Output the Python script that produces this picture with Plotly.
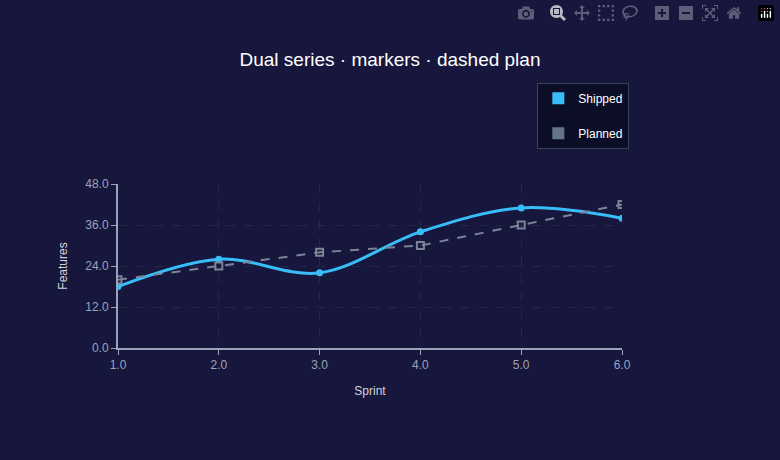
import plotly.graph_objects as go

sprints = [1, 2, 3, 4, 5, 6]
shipped = [18, 26, 22, 34, 41, 38]
planned = [20, 24, 28, 30, 36, 42]
y_ticks = [0, 12, 24, 36, 48]

fig = go.Figure()
fig.add_trace(go.Scatter(
    x=sprints, y=shipped, mode="lines+markers", name="Shipped", showlegend=False,
    line=dict(color="#38bdf8", width=3, shape="spline", smoothing=1.0),
    marker=dict(size=7, color="#38bdf8"),
))
fig.add_trace(go.Scatter(
    x=sprints, y=planned, mode="lines+markers", name="Planned", showlegend=False,
    line=dict(color="#7b8496", width=2, dash="dash"),
    marker=dict(size=7, symbol="square-open", color="#7b8496", line=dict(width=2)),
))
# legend swatches
for name, color in [("Shipped", "#38bdf8"), ("Planned", "#64748b")]:
    fig.add_trace(go.Scatter(
        x=[None], y=[None], mode="markers", name=name, legendgroup=name,
        marker=dict(symbol="square", size=14, color=color),
    ))

axis_common = dict(
    showgrid=True, gridcolor="rgba(120,130,160,0.15)", griddash="dash",
    showline=True, linecolor="#9aa3b8", linewidth=2, ticks="outside",
    tickcolor="#9aa3b8", ticklen=5, zeroline=False,
    tickfont=dict(color="#9aa3b8", size=12),
)
fig.update_layout(
    width=780, height=460,
    paper_bgcolor="#17173d", plot_bgcolor="rgba(0,0,0,0)",
    font=dict(family="Liberation Sans, Arial", color="#e5e7eb"),
    title=dict(text="Dual series · markers · dashed plan", x=0.5, y=0.885,
               xanchor="center", font=dict(size=19, color="#ffffff")),
    margin=dict(l=118, r=158, t=184, b=112),
    xaxis=dict(axis_common, title=dict(text="Sprint", font=dict(size=12, color="#d1d5db")),
               range=[1, 6], tickvals=sprints, ticktext=[f"{s:.1f}" for s in sprints]),
    yaxis=dict(axis_common, title=dict(text="Features", font=dict(size=12, color="#d1d5db")),
               range=[0, 48], tickvals=y_ticks, ticktext=[f"{v:.1f}" for v in y_ticks]),
    legend=dict(x=0.832, xanchor="left", y=0.82, yanchor="top", yref="container",
                bgcolor="rgba(5,8,25,0.6)", bordercolor="#3a4058", borderwidth=1,
                font=dict(size=12, color="#ffffff"), tracegroupgap=16, itemsizing="constant"),
)

fig.write_html("out.html", post_script="document.body.style.margin='0';")
